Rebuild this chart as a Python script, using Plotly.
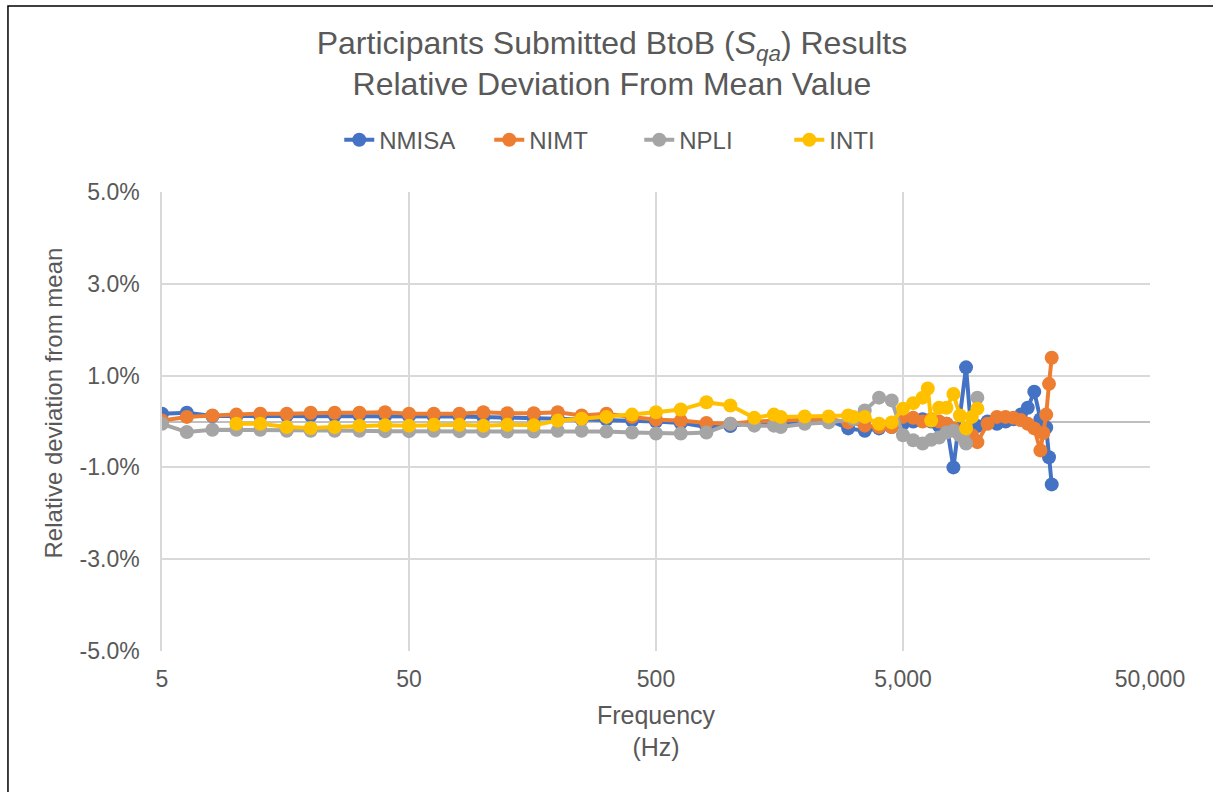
import plotly.graph_objects as go

# Frequencies (Hz) shared by the low band of every participant
freq_low = [5, 6.3, 8, 10, 12.5, 16, 20, 25, 31.5, 40, 50, 63, 80, 100, 125, 160,
            200, 250, 315, 400, 500, 630, 800, 1000, 1250, 1600, 2000, 2500]

# NMISA
nmisa_freq = freq_low + [3000, 3500, 4000, 4500, 5000, 5500, 6000, 6500, 7000, 7500,
                         8000, 9000, 9500, 10000, 11000, 12000, 13000, 14000, 15000,
                         16000, 17000, 18000, 19000, 19500, 20000]
nmisa_dev = [0.17, 0.19, 0.12, 0.12, 0.12, 0.13, 0.13, 0.13, 0.13, 0.12, 0.12, 0.11,
             0.11, 0.10, 0.08, 0.07, 0.06, 0.05, 0.04, 0.02, 0.00, -0.03, -0.12, -0.10,
             -0.02, -0.02, 0.00, 0.03,
             -0.15, -0.20, -0.15, -0.12, -0.05, 0.00, 0.05, 0.00, -0.10, -0.05,
             -1.00, 1.18, -0.35, -0.10, 0.00, -0.05, 0.00, 0.05, 0.15,
             0.30, 0.65, 0.05, -0.13, -0.78, -1.37]

# NIMT
nimt_freq = freq_low + [3000, 3500, 4000, 4500, 5000, 5500, 6000, 6500, 7000, 7500,
                        8000, 8500, 9000, 9500, 10000, 11000, 12000, 13000, 14000,
                        15000, 16000, 17000, 18000, 18500, 19000, 19500, 20000]
nimt_dev = [0.02, 0.10, 0.13, 0.15, 0.17, 0.17, 0.19, 0.19, 0.19, 0.20, 0.17, 0.17,
            0.17, 0.20, 0.18, 0.18, 0.20, 0.13, 0.17, 0.10, 0.04, 0.02, -0.03, -0.05,
            0.00, 0.02, 0.05, 0.06,
            -0.02, -0.09, -0.12, -0.12, 0.10, 0.08, 0.00, 0.05, 0.00, -0.05,
            -0.15, -0.30, -0.28, -0.30, -0.45, -0.05, 0.10, 0.10, 0.08,
            0.03, -0.05, -0.15, -0.63, -0.25, 0.15, 0.82, 1.39]

# NPLI
npli_freq = [5, 6.3, 8, 10, 12.5, 16, 20, 25, 31.5, 40, 50, 63, 80, 100, 125, 160,
             200, 250, 315, 400, 500, 630, 800, 1000, 1250, 1500, 1600, 2000, 2500,
             3150, 3500, 4000, 4500, 5000, 5500, 6000, 6500, 7000, 7500, 8000, 8500,
             9000, 10000]
npli_dev = [-0.05, -0.23, -0.18, -0.18, -0.18, -0.20, -0.20, -0.20, -0.20, -0.21,
            -0.21, -0.20, -0.21, -0.21, -0.22, -0.22, -0.20, -0.20, -0.22, -0.24,
            -0.26, -0.26, -0.24, -0.05, -0.09, -0.09, -0.12, -0.05, -0.02,
            0.05, 0.24, 0.52, 0.46, -0.30, -0.41, -0.48, -0.40, -0.35, -0.24, -0.20,
            -0.30, -0.48, 0.52]

# INTI
inti_freq = [10, 12.5, 16, 20, 25, 31.5, 40, 50, 63, 80, 100, 125, 160, 200, 250,
             315, 400, 500, 630, 800, 1000, 1250, 1500, 1600, 2000, 2500,
             3000, 3150, 3500, 4000, 4500, 5000, 5500, 6000, 6300, 6500, 7000, 7500,
             8000, 8500, 9000, 9500, 10000]
inti_dev = [-0.05, -0.05, -0.12, -0.14, -0.12, -0.09, -0.08, -0.09, -0.07, -0.07,
            -0.09, -0.07, -0.08, 0.02, 0.06, 0.10, 0.15, 0.20, 0.26, 0.42, 0.35,
            0.08, 0.15, 0.10, 0.11, 0.11,
            0.13, 0.10, 0.10, -0.05, -0.02, 0.28, 0.40, 0.52, 0.72, 0.02, 0.30, 0.30,
            0.60, 0.13, -0.15, 0.10, 0.28]

series = [
    ("NMISA", nmisa_freq, nmisa_dev, "#4472C4"),
    ("NIMT", nimt_freq, nimt_dev, "#ED7D31"),
    ("NPLI", npli_freq, npli_dev, "#A5A5A5"),
    ("INTI", inti_freq, inti_dev, "#FFC000"),
]

x_ticks = [5, 50, 500, 5000, 50000]
x_tick_text = ["5", "50", "500", "5,000", "50,000"]
y_ticks = [-5, -3, -1, 1, 3, 5]
y_tick_text = ["-5.0%", "-3.0%", "-1.0%", "1.0%", "3.0%", "5.0%"]

FONT = "Liberation Sans, Arial, sans-serif"
TEXT = "#595959"
GRID = "#D9D9D9"

fig = go.Figure()
for name, f, d, c in series:
    fig.add_trace(go.Scatter(
        x=f, y=d, name=name, mode="lines+markers",
        line=dict(color=c, width=4),
        marker=dict(color=c, size=14, symbol="circle"),
    ))

fig.update_layout(
    width=1213, height=792,
    margin=dict(l=162, r=63, t=192, b=141),
    paper_bgcolor="white", plot_bgcolor="white",
    font=dict(family=FONT, color=TEXT, size=23),
    title=dict(
        text="Participants Submitted BtoB (<i>S<sub>qa</sub></i>) Results<br>Relative Deviation From Mean Value",
        xref="container", x=0.5045, xanchor="center",
        yref="container", y=0.932, yanchor="middle",
        font=dict(family=FONT, size=32, color=TEXT),
    ),
    legend=dict(
        orientation="h", xref="container", x=0.527, xanchor="center",
        yref="container", y=0.823, yanchor="middle",
        font=dict(family=FONT, size=24, color=TEXT),
        itemwidth=30, traceorder="normal",
        entrywidth=105, entrywidthmode="pixels",
    ),
    xaxis=dict(
        type="log", range=[0.69897, 4.69897],
        tickvals=x_ticks, ticktext=x_tick_text,
        showgrid=True, gridcolor=GRID, gridwidth=1.5,
        showline=False, zeroline=False,
        ticks="outside", ticklen=7, tickcolor="rgba(0,0,0,0)",
        tickfont=dict(size=23, color=TEXT),
        title=dict(text="Frequency<br>(Hz)", font=dict(size=25, color=TEXT), standoff=15),
    ),
    yaxis=dict(
        range=[-5, 5], tickvals=y_ticks, ticktext=y_tick_text,
        showgrid=True, gridcolor=GRID, gridwidth=1.5,
        zeroline=True, zerolinecolor="#BFBFBF", zerolinewidth=1.5,
        showline=True, linecolor=GRID, linewidth=1.5,
        ticks="outside", ticklen=16, tickcolor="rgba(0,0,0,0)",
        tickfont=dict(size=23, color=TEXT),
    ),
    annotations=[dict(
        text="Relative deviation from mean", textangle=-90,
        xref="paper", yref="paper", x=-0.11, y=0.54,
        xanchor="center", yanchor="middle", showarrow=False,
        font=dict(family=FONT, size=24, color=TEXT),
    )],
    shapes=[dict(
        type="rect", xref="paper", yref="paper",
        x0=-0.1559, x1=1.07, y0=-0.32, y1=1.4052,
        line=dict(color="black", width=1.5), fillcolor="rgba(0,0,0,0)",
        layer="below",
    )],
)

fig.write_html("out.html")
